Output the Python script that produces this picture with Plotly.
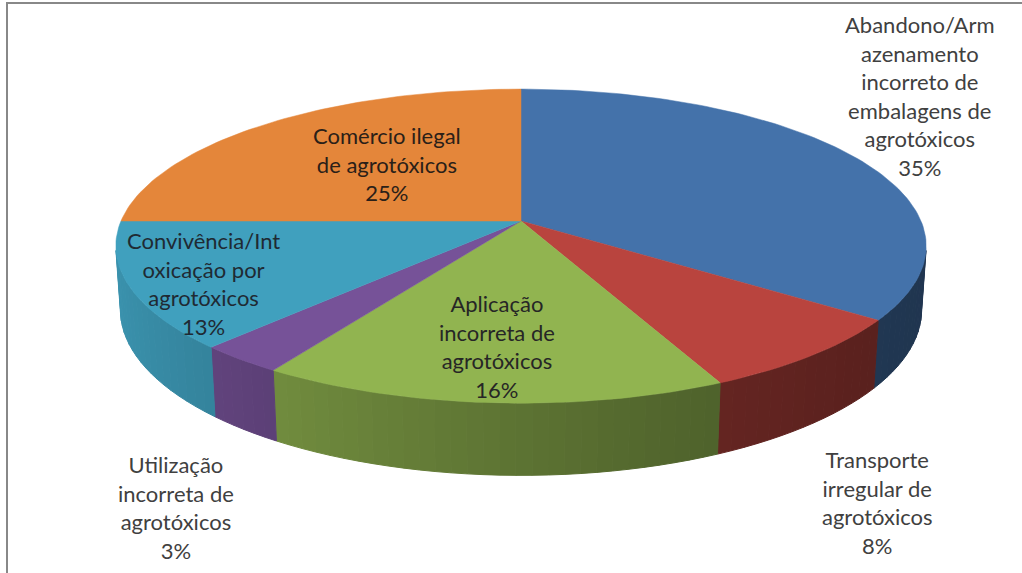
import numpy as np
import plotly.graph_objects as go

# ---- data ----
categories = [
    "Abandono/Armazenamento incorreto de embalagens de agrotóxicos",
    "Transporte irregular de agrotóxicos",
    "Aplicação incorreta de agrotóxicos",
    "Utilização incorreta de agrotóxicos",
    "Convivência/Intoxicação por agrotóxicos",
    "Comércio ilegal de agrotóxicos",
]
label_text = [
    "Abandono/Arm<br>azenamento<br>incorreto de<br>embalagens de<br>agrotóxicos",
    "Transporte<br>irregular de<br>agrotóxicos",
    "Aplicação<br>incorreta de<br>agrotóxicos",
    "Utilização<br>incorreta de<br>agrotóxicos",
    "Convivência/Int<br>oxicação por<br>agrotóxicos",
    "Comércio ilegal<br>de agrotóxicos",
]
values = [35, 8, 16, 3, 13, 25]

# ---- style ----
colors = ["#4472AA", "#B9443E", "#91B450", "#765298", "#40A0BE", "#E4863A"]
label_pos = [(920, 96), (877, 502), (497, 346), (176, 507), (203, 283), (387, 164)]
label_color = ["#404040", "#404040", "#262626", "#404040", "#1f2a33", "#2a2018"]

W, Hpx = 1022, 573
CX, CY, K, A, B, DEPTH = 521, 221, 400.0, 153.0, 0.16, 0.172
s = A / K
c = np.sqrt(1 - s * s)
Dp = c / B


def proj(th_deg, r=1.0, h=0.0):
    th = np.radians(th_deg)
    X = r * np.sin(th)
    Z = r * np.cos(th)
    d = Dp + Z * c - h * s
    return CX + K * Dp * X / d, CY - K * Dp * (Z * s + h * c) / d


def hex2rgb(h):
    h = h.lstrip("#")
    return [int(h[i:i + 2], 16) for i in (0, 2, 4)]


def shade(col, f):
    r, g, b = hex2rgb(col)
    return f"rgb({int(r*f)},{int(g*f)},{int(b*f)})"


total = sum(values)
angles = np.concatenate([[0], np.cumsum(values) / total * 360.0])

fig = go.Figure()

# visible side range
vmin = np.degrees(np.arccos(-1.0 / (Dp * c)))
vmax = 360 - vmin

# sides
for i, v in enumerate(values):
    a0, a1 = max(angles[i], vmin), min(angles[i + 1], vmax)
    if a1 <= a0:
        continue
    n = max(2, int(np.ceil((a1 - a0) / 2.0)))
    ts = np.linspace(a0, a1, n + 1)
    for j in range(n):
        t0, t1 = ts[j], ts[j + 1]
        tm = 0.5 * (t0 + t1)
        f = 0.47 + 0.45 * ((1 - np.sin(np.radians(tm))) / 2) ** 1.4
        col = shade(colors[i], f)
        xt0, yt0 = proj(t0)
        xt1, yt1 = proj(t1)
        xb1, yb1 = proj(t1, 1.0, -DEPTH)
        xb0, yb0 = proj(t0, 1.0, -DEPTH)
        fig.add_trace(go.Scatter(
            x=[xt0, xt1, xb1, xb0, xt0], y=[yt0, yt1, yb1, yb0, yt0],
            mode="lines", fill="toself", fillcolor=col,
            line=dict(color=col, width=1), hoverinfo="skip", showlegend=False))

# tops
for i, v in enumerate(values):
    ts = np.linspace(angles[i], angles[i + 1], max(3, int(values[i] * 3)))
    px, py = proj(ts)
    cx0, cy0 = proj(0, 0.0)
    xs = np.concatenate([[cx0], px, [cx0]])
    ys = np.concatenate([[cy0], py, [cy0]])
    fig.add_trace(go.Scatter(
        x=xs, y=ys, mode="lines", fill="toself", fillcolor=colors[i],
        line=dict(color=colors[i], width=0.5), name=categories[i],
        hovertemplate=f"{categories[i]}: {v}%<extra></extra>", showlegend=False))

# labels
for i, v in enumerate(values):
    pct = f"{round(v / total * 100)}%"
    fig.add_annotation(
        x=label_pos[i][0], y=label_pos[i][1], xref="x", yref="y",
        text=f"{label_text[i]}<br>{pct}", showarrow=False,
        font=dict(family="Lato", size=22, color=label_color[i]),
        align="center", xanchor="center", yanchor="middle")

# frame
fig.add_shape(type="path", path="M 7 580 L 7 3 L 1030 3", xref="x", yref="y",
              line=dict(color="#888888", width=2))

fig.update_layout(
    width=W, height=Hpx, autosize=False,
    margin=dict(l=0, r=0, t=0, b=0),
    paper_bgcolor="white", plot_bgcolor="white",
    xaxis=dict(range=[0, W], visible=False, fixedrange=True),
    yaxis=dict(range=[Hpx, 0], visible=False, fixedrange=True),
)

fig.write_html("out.html", post_script="document.body.style.margin='0';")
